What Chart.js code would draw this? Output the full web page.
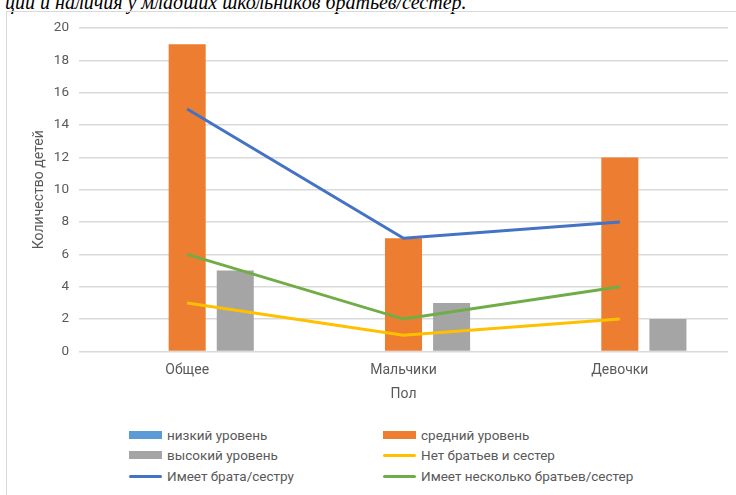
<!DOCTYPE html>
<html>
<head>
<meta charset="utf-8">
<script src="https://cdn.jsdelivr.net/npm/chart.js@4.4.0/dist/chart.umd.min.js"></script>
<style>
  html, body { margin: 0; padding: 0; background: #fff; overflow: hidden; }
  body { width: 736px; height: 495px; position: relative; }
  .caption {
    position: absolute; left: 5px; top: -9px; margin: 0;
    font-family: 'Liberation Serif', 'DejaVu Serif', serif;
    font-style: italic; font-size: 20px; color: #000; white-space: nowrap;
  }
  .frame {
    position: absolute; left: 6px; top: 11px; width: 740px; height: 500px;
    border: 1px solid #d9d9d9; box-sizing: border-box;
  }
  .chart-box { position: absolute; left: 0; top: -2px; width: 724px; height: 397px; }
  #legend {
    position: absolute; left: 0; top: 414px; width: 724px;
    font-family: Roboto, 'Open Sans', sans-serif; font-size: 13.5px; color: #595959;
  }
  .lg-item { position: absolute; height: 18px; line-height: 18px; white-space: nowrap; }
  .lg-mark { position: absolute; left: 0; width: 33px; }
  .lg-text { position: absolute; left: 38px; top: 0; }
</style>
</head>
<body>
<p class="caption">ции и наличия у младших школьников братьев/сестер.</p>
<div class="frame">
  <div class="chart-box"><canvas id="chart"></canvas></div>
  <div id="legend"></div>
</div>
<script>
// Categories and values
const categories = ['Общее', 'Мальчики', 'Девочки'];
const lowLevel = [0, 0, 0];
const midLevel = [19, 7, 12];
const highLevel = [5, 3, 2];
const hasOneSibling = [15, 7, 8];
const noSiblings = [3, 1, 2];
const manySiblings = [6, 2, 4];
const yTicks = [0, 2, 4, 6, 8, 10, 12, 14, 16, 18, 20];

const textColor = '#595959';
const font = "Roboto, 'Open Sans', sans-serif";

const bar = (label, data, color) => ({
  type: 'bar', label, data, backgroundColor: color, order: 1,
  categoryPercentage: 0.667, barPercentage: 0.77
});
const line = (label, data, color) => ({
  type: 'line', label, data, borderColor: color, backgroundColor: color,
  borderWidth: 3, pointRadius: 0, tension: 0, order: 0
});

const datasets = [
  bar('низкий уровень', lowLevel, '#5B9BD5'),
  bar('средний уровень', midLevel, '#ED7D31'),
  bar('высокий уровень', highLevel, '#A5A5A5'),
  line('Нет братьев и сестер', noSiblings, '#FFC000'),
  line('Имеет брата/сестру', hasOneSibling, '#4472C4'),
  line('Имеет несколько братьев/сестер', manySiblings, '#70AD47')
];

const chart = new Chart(document.getElementById('chart'), {
  data: { labels: categories, datasets },
  options: {
    responsive: true,
    maintainAspectRatio: false,
    animation: false,
    layout: { padding: { left: 20, right: 3, top: 8, bottom: 0 } },
    plugins: { legend: { display: false }, tooltip: { enabled: false } },
    scales: {
      x: {
        grid: { display: false },
        border: { display: false },
        ticks: { color: textColor, font: { family: font, size: 14 }, padding: 3 },
        title: { display: true, text: 'Пол', color: textColor, font: { family: font, size: 14 } }
      },
      y: {
        min: 0, max: 20,
        afterBuildTicks: axis => { axis.ticks = yTicks.map(v => ({ value: v })); },
        afterFit: axis => { axis.width = 52; },
        grid: { color: '#d9d9d9', lineWidth: 1.5, drawTicks: false },
        border: { display: false },
        ticks: { color: textColor, font: { family: font, size: 13.5 }, padding: 10 },
        title: { display: true, text: 'Количество детей', color: textColor, font: { family: font, size: 14 } }
      }
    }
  }
});

// Legend laid out in two columns like the original
const colX = [122, 376];
const rowY = [0, 20, 41];
const legendEl = document.getElementById('legend');
chart.data.datasets.forEach((ds, i) => {
  const item = document.createElement('div');
  item.className = 'lg-item';
  item.style.left = colX[i % 2] + 'px';
  item.style.top = rowY[Math.floor(i / 2)] + 'px';
  const mark = document.createElement('span');
  mark.className = 'lg-mark';
  if (ds.type === 'bar') {
    mark.style.top = '5px'; mark.style.height = '8px'; mark.style.background = ds.backgroundColor;
  } else {
    mark.style.top = '8px'; mark.style.height = '3px'; mark.style.background = ds.borderColor;
    mark.style.borderRadius = '2px';
  }
  const txt = document.createElement('span');
  txt.className = 'lg-text';
  txt.textContent = ds.label;
  item.appendChild(mark);
  item.appendChild(txt);
  legendEl.appendChild(item);
});
</script>
</body>
</html>
